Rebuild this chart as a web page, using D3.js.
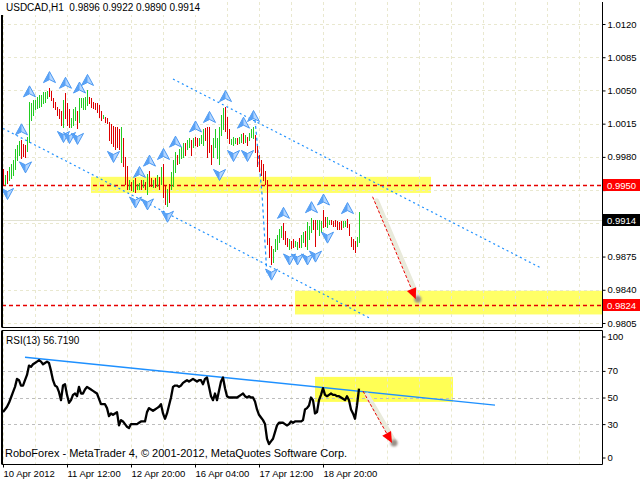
<!DOCTYPE html>
<html><head><meta charset="utf-8">
<script src="https://cdn.jsdelivr.net/npm/d3@7"></script>
<style>
html,body{margin:0;padding:0;background:#fff;}
svg{display:block;}
text{font-family:"Liberation Sans",Arial,sans-serif;}
</style></head><body>
<svg id="c" width="640" height="481"></svg>
<script>
// ---------- DATA ----------
const highs=[0.9967,0.9961,0.9965,0.9969,0.9972,0.9977,0.9988,0.9993,0.9997,0.9998,
0.9994,0.9992,1.0001,1.0038,1.0037,1.0040,1.0040,1.0043,1.0045,1.0045,
1.0048,1.0048,1.0049,1.0053,1.0049,1.0042,1.0038,1.0033,1.0030,1.0028,
1.0040,1.0047,1.0037,1.0030,1.0021,1.0030,1.0033,1.0028,1.0042,1.0042,
1.0042,1.0043,1.0050,1.0043,1.0042,1.0038,1.0037,1.0037,1.0035,1.0028,
1.0024,1.0022,1.0021,1.0017,1.0015,1.0013,1.0012,1.0011,1.0009,1.0012,
1.0000,0.9980,0.9970,0.9956,0.9954,0.9956,0.9958,0.9951,0.9953,0.9956,
0.9956,0.9954,0.9962,0.9965,0.9958,0.9956,0.9958,0.9961,0.9959,0.9969,
0.9972,0.9949,0.9946,0.9951,0.9964,0.9977,0.9985,0.9982,0.9988,0.9990,
0.9995,0.9995,0.9998,1.0000,0.9998,1.0000,1.0001,1.0000,1.0000,1.0003,
1.0009,1.0010,1.0011,1.0011,0.9993,1.0000,1.0009,1.0000,1.0011,1.0024,
1.0032,1.0033,1.0022,1.0009,0.9999,1.0001,1.0000,1.0000,1.0001,1.0004,
1.0005,1.0003,1.0001,1.0005,1.0009,1.0012,1.0003,0.9991,0.9982,0.9977,
0.9972,0.9965,0.9956,0.9895,0.9886,0.9883,0.9893,0.9898,0.9904,0.9907,
0.9910,0.9902,0.9895,0.9893,0.9891,0.9893,0.9891,0.9890,0.9895,0.9898,
0.9901,0.9902,0.9911,0.9907,0.9916,0.9914,0.9914,0.9914,0.9914,0.9912,
0.9924,0.9917,0.9917,0.9914,0.9914,0.9912,0.9914,0.9912,0.9911,0.9912,
0.9912,0.9912,0.9915,0.9909,0.9896,0.9893,0.9891,0.9896,0.9922];
const lows=[0.9950,0.9951,0.9952,0.9956,0.9958,0.9961,0.9967,0.9977,0.9982,0.9979,
0.9981,0.9980,0.9986,0.9996,1.0019,1.0024,1.0030,1.0032,1.0033,1.0034,
1.0037,1.0038,1.0042,1.0044,1.0040,1.0033,1.0030,1.0024,1.0021,1.0014,
1.0012,1.0021,1.0014,1.0011,1.0012,1.0014,1.0019,1.0010,1.0017,1.0033,
1.0030,1.0030,1.0035,1.0037,1.0033,1.0032,1.0030,1.0027,1.0022,1.0019,
1.0021,1.0017,1.0016,0.9998,0.9995,0.9991,0.9988,0.9990,0.9988,0.9975,
0.9970,0.9951,0.9946,0.9946,0.9945,0.9944,0.9943,0.9946,0.9946,0.9946,
0.9948,0.9946,0.9941,0.9949,0.9949,0.9948,0.9948,0.9949,0.9946,0.9951,
0.9938,0.9930,0.9928,0.9933,0.9946,0.9949,0.9964,0.9972,0.9974,0.9979,
0.9980,0.9982,0.9988,0.9990,0.9982,0.9990,0.9993,0.9991,0.9993,0.9995,
0.9993,0.9998,0.9980,0.9985,0.9972,0.9980,0.9990,0.9979,0.9972,1.0003,
1.0009,1.0007,1.0000,0.9995,0.9994,0.9992,0.9995,0.9994,0.9995,0.9996,
0.9995,0.9996,0.9992,0.9998,1.0001,1.0000,0.9985,0.9970,0.9965,0.9961,
0.9956,0.9951,0.9888,0.9875,0.9867,0.9869,0.9881,0.9883,0.9890,0.9896,
0.9893,0.9888,0.9886,0.9883,0.9884,0.9885,0.9886,0.9883,0.9885,0.9885,
0.9890,0.9886,0.9883,0.9893,0.9901,0.9904,0.9886,0.9904,0.9898,0.9901,
0.9906,0.9907,0.9906,0.9909,0.9909,0.9907,0.9907,0.9904,0.9904,0.9904,
0.9906,0.9907,0.9906,0.9898,0.9886,0.9883,0.9880,0.9886,0.9890];
const dirs=("duduuuuuud"+"dduuuuuuuu"+"uuuddddddd"+"uddduuuduu"+"uuuddddddd"+
"uddddddddu"+"dddududuud"+"ududdududu"+"dduduuuduu"+"uduududduu"+
"udddduuuuu"+"uddduuuduu"+"duduuudddd"+"ddddduuuuu"+"dddudduudu"+
"uduuudduuu"+"dduudddddd"+"uuddddduu").split("");
const rsi=[39,41,43,46,50,54,58,64,63,59,
59,63,67,74,73,75,76,77,78,77,
75,76,77,76,70,63,59,58,54,48,
59,60,52,46,48,52,53,51,58,53,
53,56,58,57,56,55,54,53,49,45,
45,45,42,36,38,37,38,39,29,33,
32,30,28,27,30,30,30,30,31,32,
32,32,39,42,41,40,41,42,43,45,
38,34,38,44,50,58,59,59,58,59,
61,62,63,62,63,64,63,62,63,63,
60,64,65,58,51,48,53,48,55,62,
65,57,51,50,50,50,50,50,51,52,
53,51,50,51,50,50,47,41,37,35,
33,30,19,15,17,19,24,29,31,31,
31,30,29,30,32,31,32,32,32,32,
33,41,42,44,50,48,38,39,48,52,
57,52,51,52,53,52,52,51,51,50,
49,48,51,48,41,38,34,44,56.719];
const priceTicks=[1.0120,1.0085,1.0050,1.0015,0.9980,0.9945,0.9910,0.9875,0.9840,0.9805];
const rsiTicks=[100,70,50,30,0];
const rsiLevels=[70,50,30];
const timeTickIdx=[0,32,64,96,128,160];
const timeLabels=["10 Apr 2012","11 Apr 12:00","12 Apr 20:00","16 Apr 04:00","17 Apr 12:00","18 Apr 20:00"];
const fractalUp=[9,13,23,31,38,42,68,73,80,86,96,103,111,120,125,140,154,160,172];
const fractalDown=[2,11,30,33,37,55,66,72,82,108,115,122,134,143,147,152,156,162];
const hLevels=[0.9950,0.9824];
const bidPrice=0.9914;
const titleText="USDCAD,H1  0.9896 0.9922 0.9890 0.9914";
const rsiTitle="RSI(13) 56.7190";
const copyright="RoboForex - MetaTrader 4, \u00A9 2001-2012, MetaQuotes Software Corp.";
const zones=[{i0:44,i1:214,p0:0.9942,p1:0.9959},{i0:146,i1:300,p0:0.9814,p1:0.9839}];
const channels=[[[85,1.0062],[269,0.9863]],[[0,1.0010],[183.5,0.9810]]];
const swing=[[126,1.0019],[129.5,0.9941],[132,0.9855]];
const priceArrow=[[184.8,0.9938],[206.4,0.9830]];
const rsiZone={i0:156,i1:225,r0:46.7,r1:65.5};
const rsiTrend=[[11,80.3],[246,44.3]];
const rsiArrow=[[180,54.8],[194.5,15.8]];

// ---------- LAYOUT ----------
const svg=d3.select("#c");
const L=2,R=602.5,mTop=2,mBot=327.5,rTop=330.5,rBot=464.5;
const x=d3.scaleLinear().domain([0,300]).range([3,603]);
const yP=d3.scaleLinear().domain([0.9805,1.0120]).range([323,24]);
const yR=d3.scaleLinear().domain([0,100]).range([464,331]);

svg.append("rect").attr("width",640).attr("height",481).attr("fill","#fff");
const defs=svg.append("defs");
defs.append("clipPath").attr("id","cm").append("rect").attr("x",L).attr("y",mTop).attr("width",R-L).attr("height",mBot-mTop);
defs.append("clipPath").attr("id","cr").append("rect").attr("x",L).attr("y",rTop).attr("width",R-L).attr("height",rBot-rTop);
const f=defs.append("filter").attr("id","blur").attr("x","-50%").attr("y","-50%").attr("width","200%").attr("height","200%");
f.append("feGaussianBlur").attr("stdDeviation",1.2);

const gM=svg.append("g").attr("clip-path","url(#cm)");
const gR=svg.append("g").attr("clip-path","url(#cr)");
const gridIdx=d3.range(0,301,16);
const gridCol="#e9e8cf";

// zones
gM.selectAll("rect.z").data(zones).join("rect").attr("class","z")
  .attr("x",d=>x(d.i0)).attr("width",d=>x(d.i1)-x(d.i0))
  .attr("y",d=>yP(d.p1)).attr("height",d=>yP(d.p0)-yP(d.p1))
  .attr("fill","#ffff66");
gR.append("rect").attr("x",x(rsiZone.i0)).attr("width",x(rsiZone.i1)-x(rsiZone.i0))
  .attr("y",yR(rsiZone.r1)).attr("height",yR(rsiZone.r0)-yR(rsiZone.r1)).attr("fill","#ffff55");

// grids
[[gM,mTop,mBot],[gR,rTop,rBot]].forEach(([g,t,b])=>{
  g.selectAll("line.gv").data(gridIdx).join("line").attr("class","gv")
   .attr("x1",d=>Math.round(x(d))+0.5).attr("x2",d=>Math.round(x(d))+0.5)
   .attr("y1",t).attr("y2",b).attr("stroke",gridCol).attr("stroke-dasharray","3,3");
});
gM.selectAll("line.gh").data(priceTicks).join("line").attr("class","gh")
  .attr("x1",L).attr("x2",R).attr("y1",d=>Math.round(yP(d))+0.5).attr("y2",d=>Math.round(yP(d))+0.5)
  .attr("stroke",gridCol).attr("stroke-dasharray","3,3");
gR.selectAll("line.lv").data(rsiLevels).join("line").attr("class","lv")
  .attr("x1",L).attr("x2",R).attr("y1",d=>Math.round(yR(d))+0.5).attr("y2",d=>Math.round(yR(d))+0.5)
  .attr("stroke","#bdbdbd").attr("stroke-dasharray","3,3");

// bid line
gM.append("line").attr("x1",L).attr("x2",R).attr("y1",Math.round(yP(bidPrice))+0.5).attr("y2",Math.round(yP(bidPrice))+0.5)
  .attr("stroke","#e2e2d2");
// red horizontal levels
gM.selectAll("line.hl").data(hLevels).join("line").attr("class","hl")
  .attr("x1",L).attr("x2",R).attr("y1",d=>Math.round(yP(d))+0.5).attr("y2",d=>Math.round(yP(d))+0.5)
  .style("stroke","#e60000").style("stroke-width","1.6px").style("stroke-dasharray","4,3");

// channels
const lineP=d3.line().x(d=>x(d[0])).y(d=>yP(d[1]));
gM.selectAll("path.ch").data(channels).join("path").attr("class","ch").attr("d",lineP)
  .attr("fill","none").attr("stroke","#1e90ff").attr("stroke-width",1.2).attr("stroke-dasharray","2,3");
gM.append("path").attr("d",lineP(swing)).attr("fill","none").attr("stroke","#1e90ff")
  .attr("stroke-width",1.2).attr("stroke-dasharray","3,3");

// bars
const bars=highs.map((h,i)=>({i,h,l:lows[i],d:dirs[i]}));
gM.selectAll("line.bar").data(bars).join("line").attr("class","bar")
  .attr("x1",d=>Math.round(x(d.i))+0.5).attr("x2",d=>Math.round(x(d.i))+0.5)
  .attr("y1",d=>Math.round(yP(d.h))).attr("y2",d=>Math.round(yP(d.l))+1)
  .attr("stroke",d=>d.d==="u"?"#22cc22":"#dd0000").attr("stroke-width",1);

// fractals
function glyph(g,cx,cy,up){
  const s=up?1:-1;
  const gg=g.append("g").attr("transform",`translate(${cx},${cy}) scale(1,${s})`);
  gg.append("path").attr("d","M0,-6L6,5L0,2L-6,5Z").attr("fill","#b4d6ff").attr("stroke","#3a8ff0").attr("stroke-width",0.9);
  gg.append("path").attr("d","M0,-6L0,2L-6,5Z").attr("fill","#5aa2f5");
}
fractalUp.forEach(i=>glyph(gM,Math.round(x(i))+0.5,yP(highs[i])-10,true));
fractalDown.forEach(i=>glyph(gM,Math.round(x(i))+0.5,yP(lows[i])+10,false));

// arrows
function arrow(g,p0,p1,ys){
  const x0=x(p0[0]),y0=ys(p0[1]),x1=x(p1[0]),y1=ys(p1[1]);
  const ang=Math.atan2(y1-y0,x1-x0);
  g.append("line").attr("x1",x0+4).attr("y1",y0+4).attr("x2",x1+2).attr("y2",y1-2)
   .attr("stroke","#e9eadb").attr("stroke-width",5).attr("stroke-linecap","round");
  g.append("circle").attr("cx",x1+2).attr("cy",y1).attr("r",3.5).attr("fill","#9a9088").attr("filter","url(#blur)");
  const bx=x1-11*Math.cos(ang),by=y1-11*Math.sin(ang);
  g.append("line").attr("x1",x0).attr("y1",y0).attr("x2",bx).attr("y2",by)
   .attr("stroke","#ee0000").attr("stroke-width",1).attr("stroke-dasharray","3,2");
  const nx=-Math.sin(ang)*5,ny=Math.cos(ang)*5;
  g.append("path").attr("d",`M${x1},${y1}L${bx+nx},${by+ny}L${bx-nx},${by-ny}Z`).attr("fill","#ff0000");
}
arrow(gM,priceArrow[0],priceArrow[1],yP);

// RSI
gR.append("path").attr("d",d3.line().x(d=>x(d[0])).y(d=>yR(d[1]))(rsiTrend))
  .attr("stroke","#1e90ff").attr("stroke-width",1.4).attr("fill","none");
gR.append("path").datum(rsi).attr("d",d3.line().x((d,i)=>x(i)).y(d=>yR(d)))
  .attr("fill","none").attr("stroke","#000").attr("stroke-width",2.3).attr("stroke-linejoin","round");
arrow(gR,rsiArrow[0],rsiArrow[1],yR);

// frames
const fr=svg.append("g").attr("stroke","#000").attr("fill","none");
fr.append("line").attr("x1",L).attr("x2",R).attr("y1",mBot).attr("y2",mBot);
fr.append("line").attr("x1",R).attr("x2",R).attr("y1",mTop).attr("y2",mBot);
fr.append("line").attr("x1",2).attr("x2",2).attr("y1",mTop).attr("y2",mBot).attr("stroke-width",2);
fr.append("line").attr("x1",L).attr("x2",R).attr("y1",rTop).attr("y2",rTop);
fr.append("line").attr("x1",L).attr("x2",R).attr("y1",rBot).attr("y2",rBot);
fr.append("line").attr("x1",R).attr("x2",R).attr("y1",rTop).attr("y2",rBot);
fr.append("line").attr("x1",2).attr("x2",2).attr("y1",rTop).attr("y2",rBot).attr("stroke-width",2);

// axes
const fs="9.5px";
const tagged=[hLevels[0],hLevels[1],bidPrice];
const ax=svg.append("g").attr("transform",`translate(${R},0)`)
  .call(d3.axisRight(yP).tickValues(priceTicks).tickSize(3).tickPadding(2)
    .tickFormat(d=>tagged.some(t=>Math.abs(yP(t)-yP(d))<9)?"":d3.format(".4f")(d)));
ax.select(".domain").remove();
ax.selectAll("text").attr("font-size",fs).attr("fill","#000").attr("font-family","Liberation Sans, Arial, sans-serif");
ax.selectAll("line").attr("stroke","#000");

const ar=svg.append("g").attr("transform",`translate(${R},0)`)
  .call(d3.axisRight(yR).tickValues(rsiTicks).tickSize(3).tickPadding(2));
ar.select(".domain").remove();
ar.selectAll("text").attr("font-size",fs).attr("fill","#000").attr("font-family","Liberation Sans, Arial, sans-serif");
ar.selectAll(".tick").filter(d=>d===100).attr("transform",`translate(0,${yR(100)+6})`);
ar.selectAll(".tick").filter(d=>d===0).attr("transform",`translate(0,${yR(0)-6})`);

const at=svg.append("g").attr("transform",`translate(0,${rBot})`)
  .call(d3.axisBottom(x).tickValues(timeTickIdx).tickSize(3).tickPadding(3).tickFormat((d,k)=>timeLabels[k]));
at.select(".domain").remove();
at.selectAll("text").attr("text-anchor","start").attr("x",0).attr("font-size",fs).attr("fill","#000")
  .attr("font-family","Liberation Sans, Arial, sans-serif");

// price labels
function priceTag(p,bg){
  const yy=Math.round(yP(p));
  svg.append("rect").attr("x",603).attr("y",yy-6).attr("width",37).attr("height",12).attr("fill",bg);
  svg.append("text").attr("x",607).attr("y",yy+3.5).attr("font-size",fs).attr("fill","#fff").text(d3.format(".4f")(p));
}
priceTag(hLevels[0],"#ff0000");
priceTag(hLevels[1],"#ff0000");
priceTag(bidPrice,"#000");

// texts
const tt=svg.append("text").attr("x",6).attr("y",11).attr("font-size","10px").attr("fill","#000").attr("xml:space","preserve").text(titleText);
const tw=tt.node().getComputedTextLength();
svg.insert("rect",()=>tt.node()).attr("x",0).attr("y",0).attr("width",tw+10).attr("height",15).attr("fill","#fff");
svg.append("text").attr("x",6).attr("y",344).attr("font-size","10px").attr("fill","#000").text(rsiTitle);
svg.append("text").attr("x",5).attr("y",457).attr("font-size","11px").attr("fill","#000").text(copyright);
</script>
</body></html>
